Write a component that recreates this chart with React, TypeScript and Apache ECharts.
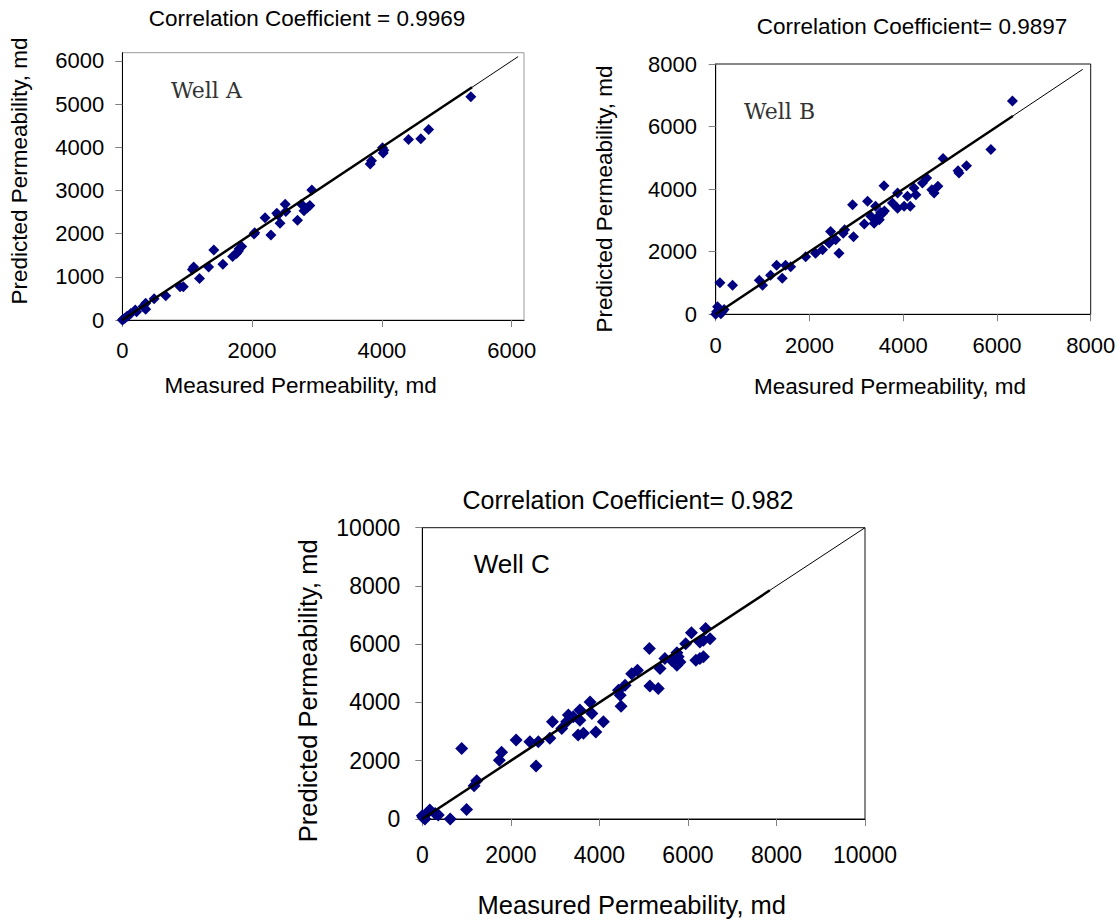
import React, { useEffect, useRef } from "react";
import * as echarts from "echarts";

// ---------- Well A ----------
const wellAMeasured = [5370, 4720, 4600, 4410, 4010, 4020, 4030, 3820, 3840, 2920, 2890, 2800, 2760, 2850, 2700, 2510, 2520, 2400, 2430, 2380, 2290, 2200, 2040, 2030, 1840, 1790, 1800, 1760, 1700, 1550, 1410, 1330, 1190, 1100, 1080, 940, 890, 670, 490, 360, 360, 320, 220, 200, 130, 70, 15, 40, 90, 0];
const wellAPredicted = [5170, 4410, 4200, 4180, 3990, 3870, 3930, 3610, 3690, 3010, 2650, 2530, 2680, 2600, 2310, 2680, 2510, 2430, 2240, 2470, 1970, 2370, 2020, 1990, 1700, 1600, 1650, 1540, 1470, 1290, 1620, 1230, 960, 1230, 1170, 770, 770, 560, 490, 390, 250, 310, 190, 230, 150, 80, 15, 40, 90, 0];
const wellAFitEnd = 5390;
const wellALineEnd = 6100;
const wellAXTicks = [0, 2000, 4000, 6000];
const wellAYTicks = [0, 1000, 2000, 3000, 4000, 5000, 6000];
const wellAAxisMax = 6190;

// ---------- Well B ----------
const wellBMeasured = [6330, 5870, 5350, 5190, 5170, 4850, 4740, 4660, 4610, 4500, 4410, 4270, 4230, 4150, 4090, 4020, 3880, 3880, 3770, 3590, 3560, 3490, 3410, 3380, 3310, 3240, 3170, 2920, 2940, 2750, 2720, 2630, 2560, 2450, 2420, 2280, 2130, 1920, 1600, 1490, 1420, 1300, 1170, 1000, 930, 360, 90, 0, 70, 140, 40, 180, 110, 20, 3450, 3520, 3600];
const wellBPredicted = [6820, 5270, 4750, 4520, 4590, 4980, 4090, 3880, 3980, 4360, 4200, 3820, 4040, 3450, 3770, 3450, 3880, 3390, 3560, 4110, 3230, 3020, 3450, 2910, 3130, 3610, 2890, 3500, 2480, 2700, 2590, 1950, 2380, 2650, 2270, 2060, 1950, 1840, 1520, 1570, 1150, 1570, 1250, 930, 1090, 930, 1010, 0, 130, 80, 240, 150, 20, 80, 3100, 3250, 3300];
const wellBFitEnd = 6340;
const wellBLineEnd = 7830;
const wellBTicks = [0, 2000, 4000, 6000, 8000];
const wellBAxisMax = 8000;

// ---------- Well C ----------
const wellCMeasured = [6400, 6080, 6500, 6350, 6270, 5950, 6350, 6180, 6270, 5130, 5750, 5780, 5820, 5750, 5630, 5480, 5370, 4860, 4730, 5140, 5330, 4580, 4430, 4470, 4490, 3790, 3830, 3560, 3560, 3410, 3300, 3260, 3150, 2940, 2880, 2620, 2430, 2120, 2570, 4090, 3920, 3640, 3520, 1790, 1740, 890, 1230, 1170, 1000, 630, 20, 100, 170, 290, 360, 60, 0];
const wellCPredicted = [6540, 6390, 6190, 6140, 6080, 6020, 5570, 5450, 5510, 5850, 5710, 5570, 5390, 5280, 5450, 5510, 5170, 5110, 4990, 4570, 4480, 4590, 4420, 4250, 3870, 4020, 3620, 3740, 3390, 3510, 3570, 3340, 3110, 3340, 2770, 2650, 2650, 2710, 1820, 3340, 2990, 2940, 2880, 2290, 2020, 2420, 1310, 1140, 330, 0, 50, 190, 310, 190, 140, 0, 110];
const wellCFitEnd = 7850;
const wellCLineEnd = 10000;
const wellCTicks = [0, 2000, 4000, 6000, 8000, 10000];
const wellCAxisMax = 10000;

const SANS = "Liberation Sans, Arial, sans-serif";

function pairs(xs: number[], ys: number[]) {
  return xs.map((x, i) => [x, ys[i]]);
}

function makeAxis(gridIndex: number, max: number, ticks: number[], margin: number, fontSize: number, tickColor: string) {
  return {
    type: "value",
    gridIndex,
    min: 0,
    max,
    interval: ticks[1] - ticks[0],
    axisLine: { show: true, onZero: false, lineStyle: { color: "#000", width: 1 } },
    axisTick: { show: true, length: 7, lineStyle: { color: tickColor, width: 1 }, customValues: ticks },
    axisLabel: {
      customValues: ticks,
      margin,
      fontSize,
      fontFamily: SANS,
      color: "#000",
      formatter: (v: number) => (ticks.indexOf(v) >= 0 ? String(v) : ""),
    },
    splitLine: { show: false },
  };
}

function text(x: number, y: number, t: string, fontSize: number, opts: any = {}) {
  return {
    type: "text",
    x,
    y,
    rotation: opts.rotation || 0,
    style: {
      text: t,
      fontSize,
      fontFamily: opts.fontFamily || SANS,
      fill: opts.fill || "#000",
      align: opts.align || "center",
      verticalAlign: "middle",
    },
  };
}

export default function App() {
  const ref = useRef<HTMLDivElement>(null);
  useEffect(() => {
    document.body.style.margin = "0";
    const chart = echarts.init(ref.current!, null, { renderer: "svg" });
    const lineSeries = (idx: number, end: number, width: number) => ({
      type: "line",
      xAxisIndex: idx,
      yAxisIndex: idx,
      data: [
        [0, 0],
        [end, end],
      ],
      showSymbol: false,
      symbol: "none",
      lineStyle: { color: "#000", width },
      z: 5,
      silent: true,
    });
    const scatter = (idx: number, xs: number[], ys: number[], size: number) => ({
      type: "scatter",
      xAxisIndex: idx,
      yAxisIndex: idx,
      data: pairs(xs, ys),
      symbol: "diamond",
      symbolSize: size,
      itemStyle: { color: "#000080", opacity: 1 },
      z: 3,
    });
    const option: any = {
      animation: false,
      backgroundColor: "#fff",
      grid: [
        { left: 122.3, top: 52.7, width: 401.7, height: 267.3, show: true, borderColor: "#999", borderWidth: 1, backgroundColor: "#fff", outerBoundsMode: "none", containLabel: false },
        { left: 715.7, top: 64, width: 375, height: 250.3, show: true, borderColor: "#111", borderWidth: 1, backgroundColor: "#fff", outerBoundsMode: "none", containLabel: false },
        { left: 422.3, top: 527.7, width: 442.7, height: 291.3, show: true, borderColor: "#111", borderWidth: 1, backgroundColor: "#fff", outerBoundsMode: "none", containLabel: false },
      ],
      xAxis: [
        makeAxis(0, wellAAxisMax, wellAXTicks, 19, 22, "#808080"),
        makeAxis(1, wellBAxisMax, wellBTicks, 20, 22, "#808080"),
        makeAxis(2, wellCAxisMax, wellCTicks, 24, 23, "#808080"),
      ],
      yAxis: [
        makeAxis(0, wellAAxisMax, wellAYTicks, 18, 22, "#808080"),
        makeAxis(1, wellBAxisMax, wellBTicks, 18.7, 22, "#808080"),
        makeAxis(2, wellCAxisMax, wellCTicks, 22, 23, "#808080"),
      ],
      series: [
        scatter(0, wellAMeasured, wellAPredicted, 11),
        lineSeries(0, wellALineEnd, 1),
        lineSeries(0, wellAFitEnd, 2.5),
        scatter(1, wellBMeasured, wellBPredicted, 11),
        lineSeries(1, wellBLineEnd, 1),
        lineSeries(1, wellBFitEnd, 2.5),
        scatter(2, wellCMeasured, wellCPredicted, 13),
        lineSeries(2, wellCLineEnd, 1),
        lineSeries(2, wellCFitEnd, 2.5),
      ],
      graphic: [
        text(307, 18.3, "Correlation Coefficient = 0.9969", 22.5),
        text(19.6, 171, "Predicted Permeability, md", 22.5, { rotation: Math.PI / 2 }),
        text(300.7, 385, "Measured Permeability, md", 22.5),
        text(171, 90, "Well A", 22, { align: "left", fontFamily: "DejaVu Serif, serif", fill: "#333" }),

        text(912, 26.7, "Correlation Coefficient= 0.9897", 22.5),
        text(604.5, 199, "Predicted Permeability, md", 22.5, { rotation: Math.PI / 2 }),
        text(890, 386.7, "Measured Permeability, md", 22.5),
        text(744, 111.7, "Well B", 22, { align: "left", fontFamily: "DejaVu Serif, serif", fill: "#333" }),

        text(628, 500, "Correlation Coefficient= 0.982", 25),
        text(307.7, 690.8, "Predicted Permeability, md", 25.5, { rotation: Math.PI / 2 }),
        text(631.8, 905, "Measured Permeability, md", 25.5),
        text(473.7, 564.3, "Well C", 26, { align: "left" }),
      ],
    };
    chart.setOption(option);
    return () => chart.dispose();
  }, []);
  return <div ref={ref} style={{ position: "absolute", left: 0, top: 0, width: 1118, height: 921 }} />;
}
